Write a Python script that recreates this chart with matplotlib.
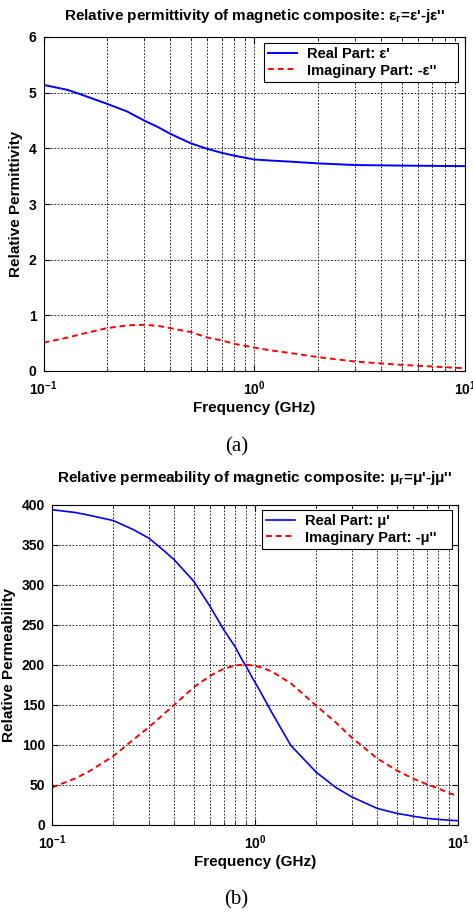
import numpy as np
import matplotlib
matplotlib.use('Agg')
import matplotlib.pyplot as plt

plt.rcParams['font.family'] = ['Liberation Sans', 'DejaVu Sans']
plt.rcParams['font.weight'] = 'bold'
plt.rcParams['axes.titleweight'] = 'bold'
plt.rcParams['axes.labelweight'] = 'bold'
plt.rcParams['mathtext.fontset'] = 'custom'
plt.rcParams['mathtext.rm'] = 'Liberation Sans:bold'
plt.rcParams['mathtext.it'] = 'Liberation Sans:bold'
plt.rcParams['mathtext.bf'] = 'Liberation Sans:bold'

# Values (frequency in GHz)
freq_eps = [0.1, 0.13, 0.15, 0.2, 0.25, 0.3, 0.35, 0.4, 0.45, 0.5, 0.6, 0.7, 0.8, 1.0, 1.2, 1.5, 2.0, 3.0, 5.0, 7.0, 10.0]
eps_real = [5.14, 5.05, 4.97, 4.80, 4.66, 4.50, 4.38, 4.26, 4.17, 4.09, 3.99, 3.92, 3.87, 3.80, 3.78, 3.76, 3.73, 3.70, 3.69, 3.685, 3.68]
eps_imag = [0.51, 0.60, 0.66, 0.77, 0.82, 0.83, 0.81, 0.77, 0.73, 0.70, 0.60, 0.55, 0.49, 0.42, 0.37, 0.32, 0.25, 0.17, 0.11, 0.08, 0.05]

freq_mu = [0.1, 0.13, 0.15, 0.2, 0.25, 0.3, 0.35, 0.4, 0.5, 0.6, 0.7, 0.8, 0.86, 0.9, 0.95, 1.0, 1.06, 1.2, 1.5,
           2.0, 2.5, 3.0, 4.0, 5.0, 6.0, 7.0, 8.0, 9.0, 10.0]
mu_real = [393.5, 390, 387, 380, 369, 358, 344, 331, 304, 273, 244, 222, 207, 199, 188, 178, 167, 142, 99.4,
           66, 46.8, 35, 20.7, 14.5, 11, 8.3, 7, 6, 5.4]
mu_imag = [46.8, 58, 66, 85.7, 106, 122, 137, 150, 172, 186, 195, 199, 200, 200, 199.5, 198.5, 197, 192, 177,
           149, 128, 109, 83, 68, 58, 51, 45.6, 40, 36]

FS = 11
FS_LEG = 10.5
FS_TICK = 10
W, H = 473, 914

fig = plt.figure(figsize=(W / 100, H / 100), dpi=100)


def make_axes(left, right, top, bottom):
    return fig.add_axes([left / W, 1 - bottom / H, (right - left) / W, (bottom - top) / H])


def style_axes(ax):
    ax.set_xscale('log')
    ax.set_xlim(0.1, 10)
    ax.set_xticks([0.1, 1, 10])
    ax.set_xticklabels(['10$^{-1}$', '10$^{0}$', '10$^{1}$'])
    ax.grid(True, which='both', axis='x', color='k', linestyle=(0, (2, 2)), linewidth=0.6)
    ax.grid(True, which='major', axis='y', color='k', linestyle=(0, (2, 2)), linewidth=0.6)
    ax.tick_params(which='both', direction='in', top=True, right=True, labelsize=FS_TICK)
    ax.tick_params(axis='x', pad=6)
    ax.tick_params(axis='y', pad=5)
    ax.tick_params(which='major', length=4)
    ax.tick_params(which='minor', length=2)
    for s in ax.spines.values():
        s.set_linewidth(0.8)
    ax.set_xlabel('Frequency (GHz)', fontsize=FS, labelpad=2)


def add_legend(ax, x0, x1, top):
    # fixed-width box like the MATLAB legend
    leg = ax.legend(loc='upper right', bbox_to_anchor=(x0, 0, x1 - x0, top), mode='expand',
                    borderaxespad=0, fontsize=FS_LEG, fancybox=False, framealpha=1, edgecolor='k',
                    handlelength=1.95, handletextpad=0.7, labelspacing=0.15, borderpad=0.3)
    leg.get_frame().set_linewidth(0.8)


# (a) permittivity
ax1 = make_axes(43.5, 465, 37, 371)
ax1.plot(freq_eps, eps_real, '-', color='b', linewidth=1.4, label="Real Part: ε'")
ax1.plot(freq_eps, eps_imag, '--', color='r', linewidth=1.4, dashes=(3, 2), label="Imaginary Part: -ε''")
style_axes(ax1)
ax1.set_ylim(0, 6)
ax1.set_yticks(range(0, 7))
ax1.set_ylabel('Relative Permittivity', fontsize=FS)
ax1.set_title("Relative permittivity of magnetic composite: ε$_\\mathregular{r}$=ε'-jε''", fontsize=FS, pad=12)
add_legend(ax1, 0.523, 0.983, 0.982)

# (b) permeability
ax2 = make_axes(52, 458, 504.5, 825)
ax2.plot(freq_mu, mu_real, '-', color='b', linewidth=1.2, label="Real Part: μ'")
ax2.plot(freq_mu, mu_imag, '--', color='r', linewidth=1.4, dashes=(3, 2), label="Imaginary Part: -μ''")
style_axes(ax2)
ax2.set_ylim(0, 400)
ax2.set_yticks(range(0, 401, 50))
ax2.set_ylabel('Relative Permeability', fontsize=FS)
ax2.set_title("Relative permeability of magnetic composite: μ$_\\mathregular{r}$=μ'-jμ''", fontsize=FS, pad=16)
add_legend(ax2, 0.517, 0.985, 0.983)

fig.text(0.5, 1 - 447 / H, '(a)', family='Liberation Serif', weight='normal', fontsize=15, ha='center', va='center')
fig.text(0.5, 1 - 900 / H, '(b)', family='Liberation Serif', weight='normal', fontsize=15, ha='center', va='center')

fig.savefig('out.png', dpi=100)
